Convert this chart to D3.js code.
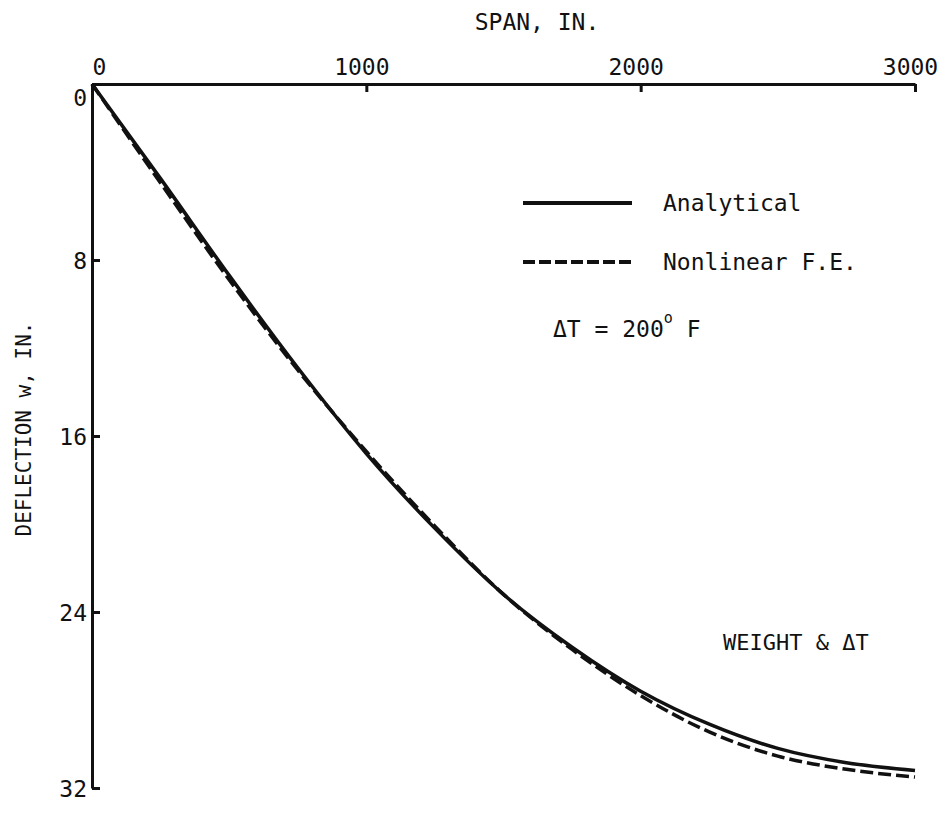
<!DOCTYPE html>
<html>
<head>
<meta charset="utf-8">
<script src="https://cdn.jsdelivr.net/npm/d3@7"></script>
<style>
  body { margin: 0; background: #fff; }
  text { font-family: "DejaVu Sans Mono", "Liberation Mono", monospace; fill: #111; }
</style>
</head>
<body>
<div id="viz"></div>
<script>
// span (in.) vs deflection w (in.)
const span = [0, 250, 500, 750, 1000, 1250, 1500, 1750, 2000, 2250, 2500, 2750, 3000];
const analytical = [0, 4.3, 8.7, 12.9, 16.8, 20.2, 23.2, 25.6, 27.6, 29.1, 30.2, 30.85, 31.2];
const nonlinearFE = [0, 4.5, 8.9, 13.0, 16.7, 20.1, 23.2, 25.7, 27.8, 29.45, 30.55, 31.15, 31.5];

const xTicks = [0, 1000, 2000, 3000];
const yTicks = [0, 8, 16, 24, 32];

let W = 950, H = 818;

let svg = d3.select('#viz')
  .append('svg')
  .attr('width', W)
  .attr('height', H);

svg.append('rect').attr('width', W).attr('height', H).attr('fill', '#fff');

let x = d3.scaleLinear().domain([0, 3000]).range([92, 915]);
let y = d3.scaleLinear().domain([0, 32]).range([84, 788]);

// top axis, ticks pointing into the plot
let xAxis = svg.append('g')
  .attr('transform', `translate(0,${y(0)})`)
  .call(d3.axisTop(x).tickValues(xTicks).tickSize(-8).tickSizeOuter(0).tickPadding(9).tickFormat(d3.format('d')));

xAxis.selectAll('text')
  .style('font-size', '23px')
  .attr('dx', d => d === 0 ? 7 : -5);

let yAxis = svg.append('g')
  .attr('transform', `translate(${x(0)},0)`)
  .call(d3.axisLeft(y).tickValues(yTicks).tickSize(-8).tickSizeOuter(0).tickPadding(5));

yAxis.selectAll('text')
  .style('font-size', '23px')
  .attr('dy', d => d === 0 ? '0.95em' : '0.35em');

svg.selectAll('.domain, .tick line')
  .attr('stroke', '#111')
  .attr('stroke-width', 3);

svg.append('text')
  .text('SPAN, IN.')
  .attr('x', 537)
  .attr('y', 30)
  .attr('text-anchor', 'middle')
  .style('font-size', '23px');

svg.append('text')
  .text('DEFLECTION w, IN.')
  .attr('transform', 'translate(24,429) rotate(-90)')
  .attr('text-anchor', 'middle')
  .attr('dominant-baseline', 'central')
  .style('font-size', '21px');

let line = d3.line()
  .x(d => x(d[0]))
  .y(d => y(d[1]))
  .curve(d3.curveMonotoneX);

svg.append('path')
  .datum(span.map((s, i) => [s, nonlinearFE[i]]))
  .attr('d', line)
  .attr('fill', 'none')
  .attr('stroke', '#111')
  .attr('stroke-width', 3.5)
  .attr('stroke-dasharray', '13,5');

svg.append('path')
  .datum(span.map((s, i) => [s, analytical[i]]))
  .attr('d', line)
  .attr('fill', 'none')
  .attr('stroke', '#111')
  .attr('stroke-width', 3.5);

// legend
svg.append('line')
  .attr('x1', 523).attr('x2', 632).attr('y1', 203).attr('y2', 203)
  .attr('stroke', '#111').attr('stroke-width', 4);

svg.append('line')
  .attr('x1', 523).attr('x2', 632).attr('y1', 262).attr('y2', 262)
  .attr('stroke', '#111').attr('stroke-width', 4)
  .attr('stroke-dasharray', '12,4');

svg.append('text').text('Analytical')
  .attr('x', 663).attr('y', 211)
  .style('font-size', '23px');

svg.append('text').text('Nonlinear F.E.')
  .attr('x', 663).attr('y', 270)
  .style('font-size', '23px');

let dt = svg.append('text')
  .attr('x', 553).attr('y', 337)
  .style('font-size', '23px');
dt.append('tspan').text('\u0394T = 200');
dt.append('tspan').text('o').attr('dy', -14).style('font-size', '15px');
dt.append('tspan').text(' F').attr('dy', 14);

svg.append('text').text('WEIGHT & \u0394T')
  .attr('x', 723).attr('y', 650)
  .style('font-size', '22px');
</script>
</body>
</html>
